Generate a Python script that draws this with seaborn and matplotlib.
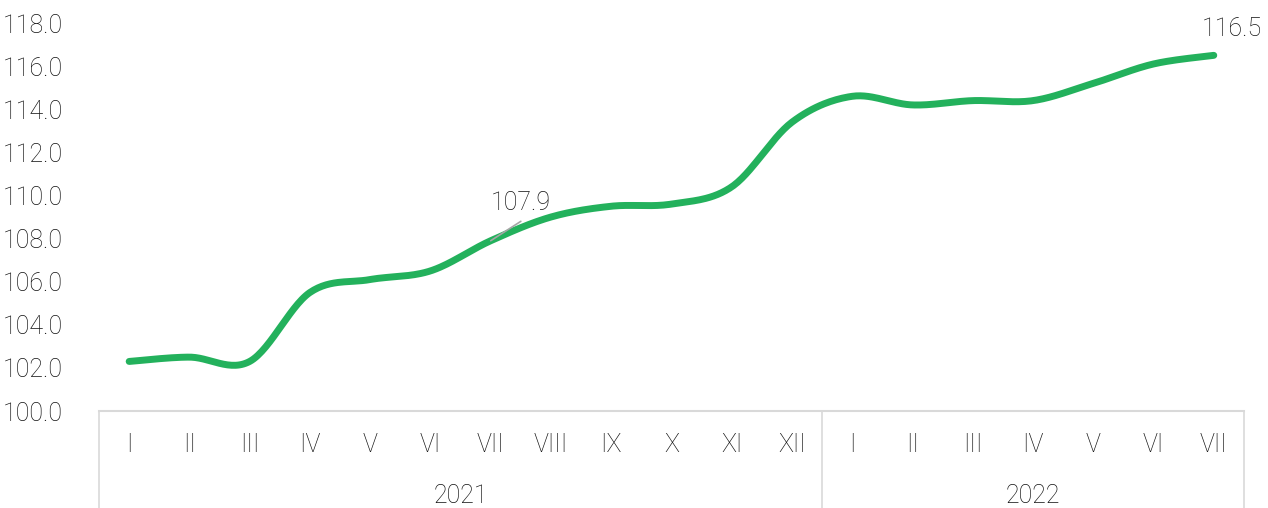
import numpy as np
import pandas as pd
import matplotlib.pyplot as plt
import matplotlib.transforms as mtransforms
import seaborn as sns

# Data
months = ['I', 'II', 'III', 'IV', 'V', 'VI', 'VII', 'VIII', 'IX', 'X', 'XI', 'XII',
          'I', 'II', 'III', 'IV', 'V', 'VI', 'VII']
years = ['2021', '2022']
months_per_year = [12, 7]
values = [102.3, 102.5, 102.3, 105.5, 106.1, 106.5, 107.9, 109.0, 109.5, 109.6, 110.4, 113.4,
          114.6, 114.2, 114.4, 114.4, 115.2, 116.1, 116.5]
labelled = {6: '107.9', 18: '116.5'}

sns.set_theme(style='white')
plt.rcParams['font.family'] = ['Roboto', 'DejaVu Sans']
text_color = '#111111'
grid_color = '#d9d9d9'
line_color = '#23b15c'
weight = 'light'


def smooth(x, y, n=30):
    # Excel-style smoothed line (Catmull-Rom as cubic Bezier)
    x = np.asarray(x, float)
    y = np.asarray(y, float)
    pts = np.column_stack([x, y])
    out = []
    for i in range(len(pts) - 1):
        p0 = pts[max(i - 1, 0)]
        p1 = pts[i]
        p2 = pts[i + 1]
        p3 = pts[min(i + 2, len(pts) - 1)]
        c1 = p1 + (p2 - p0) / 6
        c2 = p2 - (p3 - p1) / 6
        t = np.linspace(0, 1, n, endpoint=(i == len(pts) - 2))[:, None]
        seg = ((1 - t) ** 3) * p1 + 3 * ((1 - t) ** 2) * t * c1 + 3 * (1 - t) * t ** 2 * c2 + t ** 3 * p2
        out.append(seg)
    out = np.vstack(out)
    return out[:, 0], out[:, 1]


x_idx = np.arange(len(values))
sx, sy = smooth(x_idx, values)
curve = pd.DataFrame({'x': sx, 'y': sy})

fig = plt.figure(figsize=(12.68, 5.08), dpi=100)
ax = fig.add_axes([0.0781, 0.1909, 0.9029, 0.7638])

sns.lineplot(data=curve, x='x', y='y', sort=False, color=line_color, linewidth=5,
             solid_capstyle='round', ax=ax)

ax.set_xlim(-0.5, len(values) - 0.5)
ax.set_ylim(100, 118)
ax.set_yticks(np.arange(100, 118.1, 2))
ax.set_yticklabels([f'{v:.1f}' for v in np.arange(100, 118.1, 2)])
ax.set_xticks([])
ax.set_xlabel('')
ax.set_ylabel('')
ax.tick_params(axis='y', length=0, pad=26, labelsize=18, labelcolor=text_color)
for lbl in ax.get_yticklabels():
    lbl.set_fontweight(weight)

for side in ['top', 'right', 'left']:
    ax.spines[side].set_visible(False)
ax.spines['bottom'].set_color(grid_color)
ax.spines['bottom'].set_linewidth(1.5)

# category axis: months, years and separators
trans = mtransforms.blended_transform_factory(ax.transData, ax.transAxes)
for i, m in enumerate(months):
    ax.text(i, -0.088, m, transform=trans, ha='center', va='center',
            fontsize=18, fontweight=weight, color=text_color)

start = -0.5
bounds = [start]
for yr, n in zip(years, months_per_year):
    ax.text(start + n / 2, -0.218, yr, transform=trans, ha='center', va='center',
            fontsize=18, fontweight=weight, color=text_color)
    start += n
    bounds.append(start)
for b in bounds:
    ax.plot([b, b], [0, -0.26], transform=trans, color=grid_color, linewidth=1.2,
            clip_on=False)

# data labels
ax.plot([6, 6.5], [values[6], values[6] + 0.9], color='#a6a6a6', linewidth=1.2, zorder=3)
ax.text(6.5, values[6] + 1.75, labelled[6], ha='center', va='center',
        fontsize=18, fontweight=weight, color=text_color)
ax.text(18.3, values[18] + 1.2, labelled[18], ha='center', va='center',
        fontsize=18, fontweight=weight, color=text_color)

fig.savefig('out.png', dpi=100)
